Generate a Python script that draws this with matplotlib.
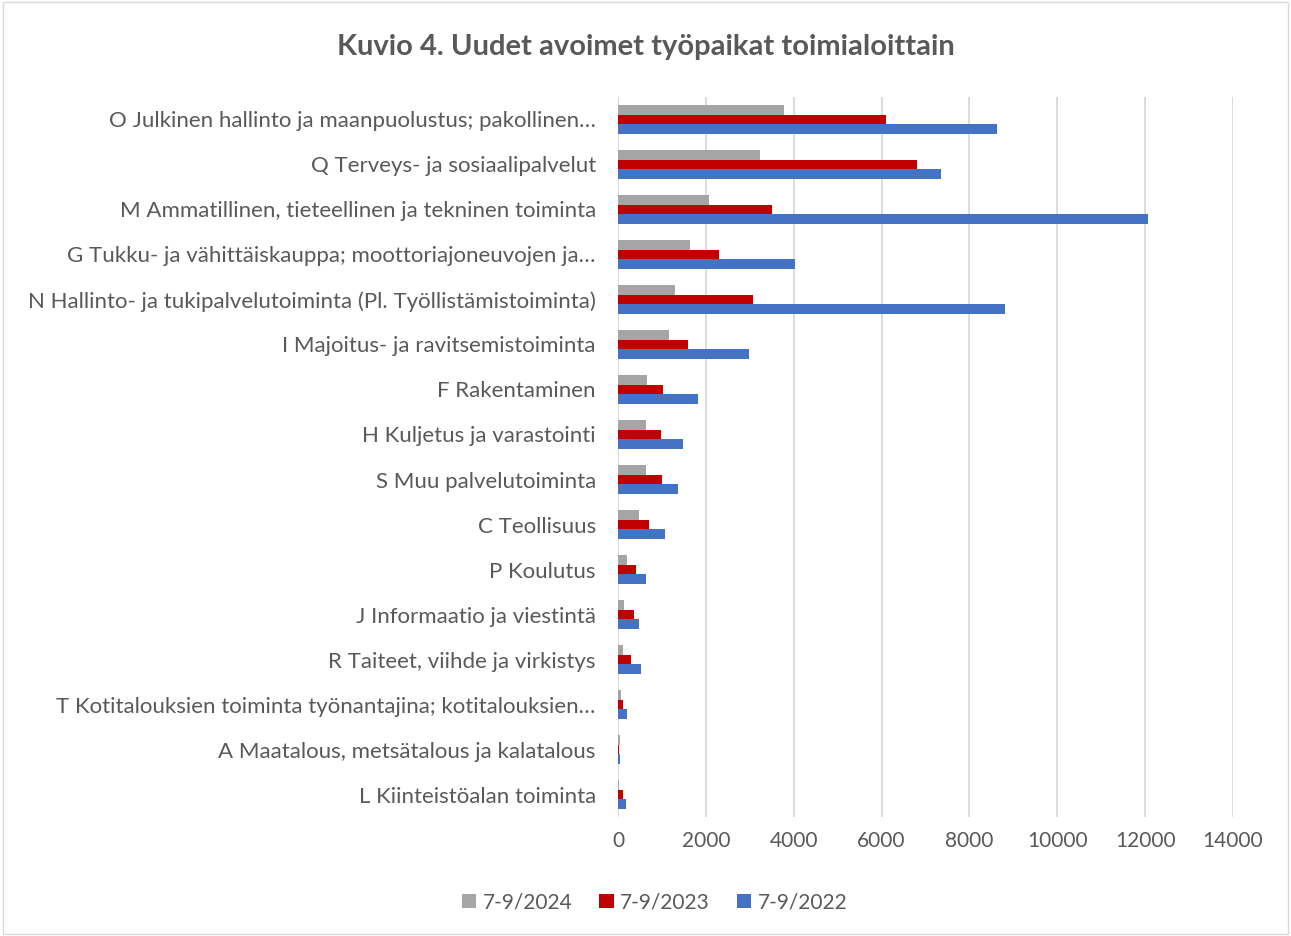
import numpy as np
import matplotlib
matplotlib.use('Agg')
import matplotlib.pyplot as plt
from matplotlib.patches import Rectangle

plt.rcParams['font.family'] = ['Lato', 'DejaVu Sans']

categories = [
    'O Julkinen hallinto ja maanpuolustus; pakollinen…',
    'Q Terveys- ja sosiaalipalvelut',
    'M Ammatillinen, tieteellinen ja tekninen toiminta',
    'G Tukku- ja vähittäiskauppa; moottoriajoneuvojen ja…',
    'N Hallinto- ja tukipalvelutoiminta (Pl. Työllistämistoiminta)',
    'I Majoitus- ja ravitsemistoiminta',
    'F Rakentaminen',
    'H Kuljetus ja varastointi',
    'S Muu palvelutoiminta',
    'C Teollisuus',
    'P Koulutus',
    'J Informaatio ja viestintä',
    'R Taiteet, viihde ja virkistys',
    'T Kotitalouksien toiminta työnantajina; kotitalouksien…',
    'A Maatalous, metsätalous ja kalatalous',
    'L Kiinteistöalan toiminta',
]
v2024 = [3775, 3230, 2080, 1635, 1300, 1150, 650, 635, 630, 470, 215, 140, 125, 75, 45, 30]
v2023 = [6110, 6815, 3510, 2310, 3065, 1595, 1035, 990, 995, 700, 400, 370, 285, 105, 15, 105]
v2022 = [8630, 7355, 12060, 4040, 8805, 2990, 1810, 1480, 1370, 1065, 645, 470, 515, 205, 40, 185]
series_names = ['7-9/2024', '7-9/2023', '7-9/2022']
colors = ['#A5A5A5', '#C00000', '#4472C4']

fig = plt.figure(figsize=(12.91, 9.36), dpi=100)
ax = fig.add_axes([0.4787, 0.1271, 0.4764, 0.7693])

y = np.arange(len(categories))
h = 0.208
for i, (vals, name, c) in enumerate(zip([v2024, v2023, v2022], series_names, colors)):
    ax.barh(y + (i - 1) * h, vals, height=h, color=c, label=name, zorder=3)

ax.set_ylim(len(categories) - 0.5, -0.5)
ax.set_xlim(0, 14000)
ax.set_xticks(np.arange(0, 14001, 2000))
ax.set_yticks(y)
ax.set_yticklabels(categories, fontsize=16)
ax.tick_params(axis='both', length=0, colors='#595959')
ax.tick_params(axis='x', labelsize=15, pad=10)
ax.tick_params(axis='y', pad=16)
ax.grid(axis='x', color='#D9D9D9', linewidth=1.3, zorder=0)
for s in ax.spines.values():
    s.set_visible(False)

fig.text(0.5, 0.95, 'Kuvio 4. Uudet avoimet työpaikat toimialoittain',
         ha='center', va='center', fontsize=21, fontweight='bold', color='#595959')

leg = fig.legend(loc='center', bbox_to_anchor=(0.507, 0.036), ncol=3, frameon=False,
                 fontsize=15, handlelength=0.7, handleheight=0.7, handletextpad=0.3,
                 columnspacing=1.3)
for t in leg.get_texts():
    t.set_color('#595959')

fig.patches.append(Rectangle((0.002, 0.002), 0.996, 0.996, transform=fig.transFigure,
                             fill=False, edgecolor='#D9D9D9', linewidth=1))

plt.savefig('out.png', dpi=100)
